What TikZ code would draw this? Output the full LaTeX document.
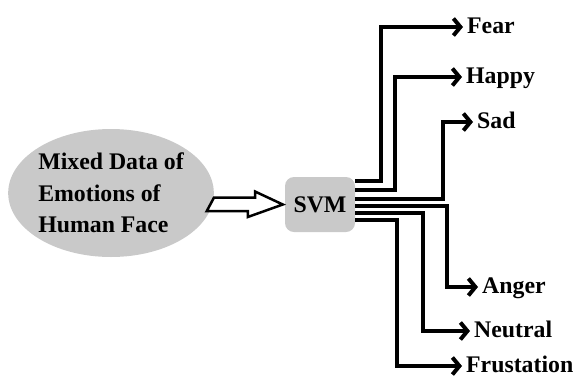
\documentclass[tikz,border=0pt]{standalone}
\usepackage{fontspec}
\setmainfont{Liberation Serif}
\usetikzlibrary{arrows.meta,calc,shapes.geometric}

\begin{document}
\begin{tikzpicture}[x=1pt,y=-1pt,
		branch/.style={line width=4pt,-{Straight Barb[length=7pt,width=17pt]}},
		emotion/.style={anchor=west,inner sep=4pt,font=\fontsize{23.8}{28}\selectfont\bfseries,text height=16pt,text depth=4pt}]
		\useasboundingbox (0,0) rectangle (575,378);
		
		% input data
		\node[ellipse,fill=black!21,minimum width=196pt,minimum height=128pt,inner sep=0pt,align=left,
			font=\fontsize{23.8}{31.5}\selectfont\bfseries] (data) at (111,193) {Mixed Data of\\Emotions of\\Human Face};
		
		% classifier
		\node[fill=black!21,rounded corners=9pt,minimum width=70pt,minimum height=55pt,
			font=\fontsize{23.8}{28}\selectfont\bfseries] (svm) at (320,204.5) {SVM};
		
		% hollow arrow
		\draw[line width=2.5pt,fill=white] ($(data.east |- svm.west)+(0,-7)$) -- ++(41,0) -- ++(0,-6) --
			($(svm.west)+(-2,0)$) -- ++(-35,12.5) -- ++(0,-6) -- ++(-41,0) -- cycle;
		
		% emotions
		\node[emotion] (fear) at (463,27) {Fear};
		\node[emotion] (happy) at (462,77) {Happy};
		\node[emotion] (sad) at (473,122) {Sad};
		\node[emotion] (anger) at (478,287) {Anger};
		\node[emotion] (neutral) at (470,331) {Neutral};
		\node[emotion] (frust) at (462,366) {Frustation};
		
		\draw[branch] ([yshift=23.5pt]svm.east) -- ++(26,0) |- (fear.west);
		\draw[branch] ([yshift=14.5pt]svm.east) -- ++(40,0) |- (happy.west);
		\draw[branch] ([yshift=5.5pt]svm.east) -- ++(88,0) |- (sad.west);
		\draw[branch] ([yshift=-1.5pt]svm.east) -- ++(92,0) |- (anger.west);
		\draw[branch] ([yshift=-8.5pt]svm.east) -- ++(68,0) |- (neutral.west);
		\draw[branch] ([yshift=-15.5pt]svm.east) -- ++(42,0) |- (frust.west);
		
	\end{tikzpicture}
\end{document}
